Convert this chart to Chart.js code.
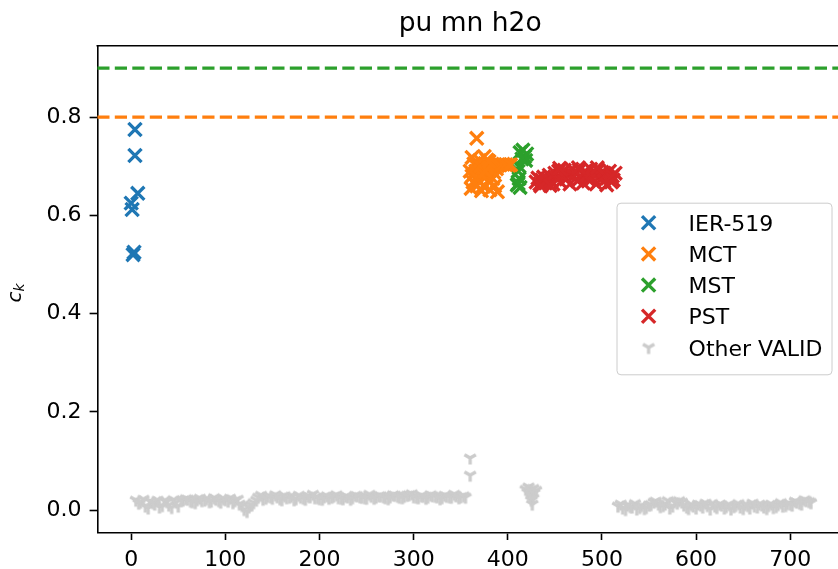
<!DOCTYPE html>
<html>
<head>
<meta charset="utf-8">
<script src="https://cdn.jsdelivr.net/npm/chart.js@4/dist/chart.umd.min.js"></script>
<style>
html, body { margin: 0; padding: 0; overflow: hidden; background: #fff; }
</style>
</head>
<body>
<canvas id="chart" width="850" height="569"></canvas>
<script>
// tick labels
const xTicks = [0, 100, 200, 300, 400, 500, 600, 700];
const yTicks = [0.0, 0.2, 0.4, 0.6, 0.8];

// IER-519
const ierX = [0, 1, 2, 3, 4, 4, 7];
const ierY = [0.625, 0.612, 0.52, 0.525, 0.775, 0.722, 0.645];

// MCT
const mctX = [367, 362, 364, 366, 362, 365, 361, 368, 370, 371, 369, 373, 374, 376, 377, 379, 380, 381, 382, 384,
  385, 386, 388, 389, 390, 372, 375, 378, 363, 367, 371, 383, 386, 389, 392, 395, 398, 360, 376, 380,
  401, 403];
const mctY = [0.757, 0.718, 0.705, 0.690, 0.680, 0.665, 0.655, 0.700, 0.712, 0.684, 0.672, 0.695, 0.660, 0.705, 0.680, 0.692, 0.668, 0.652, 0.700, 0.675,
  0.688, 0.660, 0.695, 0.648, 0.703, 0.650, 0.720, 0.713, 0.668, 0.660, 0.700, 0.703, 0.703, 0.702, 0.703, 0.704, 0.703, 0.690, 0.690, 0.710,
  0.702, 0.703];

// MST
const mstX = [413, 416, 418, 420, 415, 419, 412, 411, 412, 410, 413, 411];
const mstY = [0.728, 0.733, 0.720, 0.725, 0.715, 0.712, 0.700, 0.690, 0.675, 0.662, 0.657, 0.665];

// PST
const pstX = [430, 432, 434, 436, 438, 440, 442, 444, 446, 448, 450, 452, 454, 456, 458, 460, 462, 464, 466, 468, 470,
  472, 474, 476, 478, 480, 482, 484, 486, 488, 490, 492, 494, 496, 498, 500, 502, 504, 506, 508, 510, 511,
  512, 514, 435, 445, 455, 475, 495, 505];
const pstY = [0.668, 0.676, 0.664, 0.672, 0.678, 0.666, 0.674, 0.682, 0.670, 0.664, 0.686, 0.676, 0.690, 0.668, 0.682, 0.692, 0.674, 0.686, 0.664, 0.694, 0.680,
  0.688, 0.670, 0.692, 0.678, 0.666, 0.690, 0.682, 0.672, 0.694, 0.676, 0.686, 0.664, 0.692, 0.680, 0.688, 0.670, 0.684, 0.676, 0.690, 0.668, 0.680,
  0.672, 0.686, 0.660, 0.661, 0.696, 0.697, 0.697, 0.662];

// Other VALID
const otherX = [5, 10, 15, 20, 25, 30, 35, 40, 45, 50, 55, 60, 65, 70, 75, 80, 85, 90, 95, 100,
  105, 110, 115, 120, 125, 130, 135, 140, 145, 150, 155, 160, 165, 170, 175, 180, 185, 190, 195, 200,
  205, 210, 215, 220, 225, 230, 235, 240, 245, 250, 255, 260, 265, 270, 275, 280, 285, 290, 295, 300,
  305, 310, 315, 320, 325, 330, 335, 340, 345, 350, 355,
  8, 13, 18, 23, 28, 33, 38, 43, 48, 53, 58, 63, 68, 73, 78, 83, 88, 93, 98, 103,
  108, 113, 118, 123, 128, 133, 138, 143, 148, 153, 158, 163, 168, 173, 178, 183, 188, 193, 198, 203,
  208, 213, 218, 223, 228, 233, 238, 243, 248, 253, 258, 263, 268, 273, 278, 283, 288, 293, 298, 303,
  308, 313, 318, 323, 328, 333, 338, 343, 348, 353,
  360, 360,
  419, 421, 422, 424, 425, 427, 428, 430, 425, 426, 427,
  517, 522, 527, 532, 537, 542, 547, 552, 557, 562, 567, 572, 577, 582, 587, 592, 597, 602, 607, 612,
  617, 622, 627, 632, 637, 642, 647, 652, 657, 662, 667, 672, 677, 682, 687, 692, 697, 702, 707, 712, 717, 722,
  520, 525, 530, 535, 540, 545, 550, 555, 560, 565, 570, 575, 580, 585, 590, 595, 600, 605, 610, 615,
  620, 625, 630, 635, 640, 645, 650, 655, 660, 665, 670, 675, 680, 685, 690, 695, 700, 705, 710, 715, 720];
const otherY = [0.020, 0.016, 0.008, 0.018, 0.012, 0.006, 0.019, 0.010, 0.021, 0.008, 0.020, 0.022, 0.017, 0.021, 0.019, 0.023, 0.018, 0.022, 0.016, 0.021,
  0.024, 0.019, 0.012, 0.001, 0.006, 0.015, 0.026, 0.022, 0.028, 0.024, 0.027, 0.021, 0.025, 0.028, 0.023, 0.026, 0.022, 0.027, 0.025, 0.023,
  0.027, 0.024, 0.028, 0.025, 0.023, 0.027, 0.025, 0.029, 0.026, 0.024, 0.028, 0.026, 0.029, 0.025, 0.027, 0.030, 0.026, 0.028, 0.031, 0.027,
  0.025, 0.028, 0.026, 0.029, 0.027, 0.025, 0.028, 0.026, 0.029, 0.027, 0.026,
  0.014, 0.022, 0.004, 0.015, 0.020, 0.009, 0.017, 0.005, 0.016, 0.019, 0.023, 0.018, 0.015, 0.024, 0.020, 0.017, 0.025, 0.019, 0.023, 0.018,
  0.015, 0.022, 0.009, -0.003, 0.010, 0.020, 0.030, 0.024, 0.027, 0.031, 0.023, 0.029, 0.026, 0.021, 0.030, 0.024, 0.028, 0.032, 0.025, 0.022,
  0.029, 0.026, 0.031, 0.024, 0.028, 0.022, 0.030, 0.027, 0.025, 0.032, 0.024, 0.029, 0.027, 0.023, 0.031, 0.028, 0.025, 0.030, 0.033, 0.026,
  0.029, 0.024, 0.031, 0.028, 0.023, 0.030, 0.027, 0.032, 0.025, 0.029,
  0.106, 0.071,
  0.042, 0.036, 0.047, 0.040, 0.030, 0.044, 0.035, 0.040, 0.020, 0.012, 0.024,
  0.008, 0.004, 0.010, 0.006, 0.002, 0.009, 0.005, 0.011, 0.018, 0.007, 0.012, 0.004, 0.017, 0.019, 0.010, 0.003, 0.008, 0.012, 0.006, 0.009,
  0.013, 0.005, 0.010, 0.007, 0.002, 0.009, 0.006, 0.011, 0.004, 0.008, 0.012, 0.006, 0.009, 0.005, 0.011, 0.008, 0.013, 0.010, 0.016, 0.012, 0.019, 0.015,
  0.012, 0.001, 0.007, 0.013, 0.005, 0.003, 0.010, 0.016, 0.012, 0.009, 0.019, 0.008, 0.014, 0.016, 0.006, 0.011, 0.004, 0.010, 0.014, 0.002,
  0.008, 0.012, 0.004, 0.011, 0.007, 0.013, 0.003, 0.009, 0.014, 0.006, 0.010, 0.003, 0.012, 0.007, 0.015, 0.009, 0.012, 0.018, 0.014, 0.021, 0.017];

// limit lines
const mstLimit = 0.9;
const mctLimit = 0.8;

const xMin = -36, xMax = 756;
const yMin = -0.0454, yMax = 0.9456;

const FONT = 'DejaVu Sans';
const pts = (xs, ys) => xs.map((x, i) => ({ x: x, y: ys[i] }));

// tri_down marker like matplotlib '1'
function triDown(color) {
    const c = document.createElement('canvas');
    c.width = 22; c.height = 22;
    const g = c.getContext('2d');
    const r = 6.6;
    g.strokeStyle = color;
    g.lineWidth = 3.3;
    g.beginPath();
    g.moveTo(11, 11); g.lineTo(11, 11 + r);
    g.moveTo(11, 11); g.lineTo(11 - 0.866 * r, 11 - 0.5 * r);
    g.moveTo(11, 11); g.lineTo(11 + 0.866 * r, 11 - 0.5 * r);
    g.stroke();
    return c;
}
const grayMark = triDown('#cccccc');

const xSet = (label, color, data) => ({
    label: label, data: data,
    pointStyle: 'crossRot', pointRadius: 9.3, pointBorderWidth: 3.3,
    borderColor: color, backgroundColor: color, showLine: false
});

const legendItems = [
    { label: 'IER-519', color: '#1f77b4' },
    { label: 'MCT', color: '#ff7f0e' },
    { label: 'MST', color: '#2ca02c' },
    { label: 'PST', color: '#d62728' },
    { label: 'Other VALID', color: '#cccccc', tri: true }
];

// top spine, y label and legend box
const extras = {
    id: 'extras',
    afterDraw(chart) {
        const ctx = chart.ctx;
        const a = chart.chartArea;
        ctx.save();
        ctx.strokeStyle = '#000';
        ctx.lineWidth = 1.6;
        ctx.beginPath();
        ctx.moveTo(a.left - 0.8, a.top);
        ctx.lineTo(a.right, a.top);
        ctx.stroke();

        // y label c_k
        ctx.save();
        ctx.translate(21, (a.top + a.bottom) / 2 + 4);
        ctx.rotate(-Math.PI / 2);
        ctx.fillStyle = '#000';
        ctx.textBaseline = 'alphabetic';
        ctx.textAlign = 'left';
        ctx.font = 'italic 20px "' + FONT + '"';
        const cw = ctx.measureText('c').width;
        ctx.fillText('c', -cw / 2 - 4, 0);
        ctx.font = 'italic 14px "' + FONT + '"';
        ctx.fillText('k', cw / 2 - 4, 3);
        ctx.restore();

        // legend
        const w = 215, h = 171.6;
        const lx = a.right - 11 - w;
        const ly = (a.top + a.bottom) / 2 - h / 2;
        ctx.beginPath();
        ctx.roundRect(lx, ly, w, h, 4);
        ctx.fillStyle = 'rgba(255,255,255,0.8)';
        ctx.fill();
        ctx.strokeStyle = '#cccccc';
        ctx.lineWidth = 1;
        ctx.stroke();
        ctx.font = '22px "' + FONT + '"';
        ctx.textAlign = 'left';
        ctx.textBaseline = 'alphabetic';
        legendItems.forEach((it, i) => {
            const cy = ly + 19.5 + i * 31.2;
            const mx = lx + 31.6;
            if (it.tri) {
                ctx.drawImage(grayMark, mx - 11, cy - 11);
            } else {
                const d = 6.6;
                ctx.strokeStyle = it.color;
                ctx.lineWidth = 3.3;
                ctx.beginPath();
                ctx.moveTo(mx - d, cy - d); ctx.lineTo(mx + d, cy + d);
                ctx.moveTo(mx + d, cy - d); ctx.lineTo(mx - d, cy + d);
                ctx.stroke();
            }
            ctx.fillStyle = '#000';
            ctx.fillText(it.label, lx + 71.6, cy + 8);
        });
        ctx.restore();
    }
};

const tickFont = { family: FONT, size: 22 };

new Chart(document.querySelector('#chart'), {
    type: 'scatter',
    data: {
        datasets: [
            {
                label: 'limit MST', data: [{ x: xMin, y: mstLimit }, { x: xMax, y: mstLimit }],
                showLine: true, pointRadius: 0, borderColor: '#2ca02c', borderWidth: 3.3, borderDash: [12.2, 5.3]
            },
            {
                label: 'limit MCT', data: [{ x: xMin, y: mctLimit }, { x: xMax, y: mctLimit }],
                showLine: true, pointRadius: 0, borderColor: '#ff7f0e', borderWidth: 3.3, borderDash: [12.2, 5.3]
            },
            xSet('IER-519', '#1f77b4', pts(ierX, ierY)),
            xSet('MCT', '#ff7f0e', pts(mctX, mctY)),
            xSet('MST', '#2ca02c', pts(mstX, mstY)),
            xSet('PST', '#d62728', pts(pstX, pstY)),
            {
                label: 'Other VALID', data: pts(otherX, otherY),
                pointStyle: grayMark, pointRadius: 6.6, showLine: false
            }
        ]
    },
    options: {
        responsive: false,
        animation: false,
        events: [],
        layout: { autoPadding: false, padding: { left: 0, right: 7, top: 0, bottom: 0 } },
        plugins: {
            legend: { display: false },
            tooltip: { enabled: false },
            title: {
                display: true, text: 'pu mn h2o', fullSize: false, color: '#000',
                font: { family: FONT, size: 26.5, weight: 'normal' },
                padding: { top: 8.1, bottom: 5.8 }
            }
        },
        scales: {
            x: {
                type: 'linear', min: xMin, max: xMax,
                afterBuildTicks: s => { s.ticks = xTicks.map(v => ({ value: v })); },
                afterFit: s => { s.height = 36.7; s.paddingLeft = 0; s.paddingRight = 0; },
                ticks: { autoSkip: false, maxRotation: 0, padding: 7, color: '#000', font: tickFont, callback: v => String(v) },
                grid: { drawOnChartArea: false, drawTicks: true, tickLength: 7.7, tickColor: '#000', tickWidth: 1.6 },
                border: { display: true, color: '#000', width: 1.6 }
            },
            y: {
                type: 'linear', min: yMin, max: yMax,
                afterBuildTicks: s => { s.ticks = yTicks.map(v => ({ value: v })); },
                afterFit: s => { s.width = 97.3; s.paddingTop = 0; s.paddingBottom = 0; },
                ticks: { autoSkip: false, padding: 8, color: '#000', font: tickFont, callback: v => v.toFixed(1) },
                grid: { drawOnChartArea: false, drawTicks: true, tickLength: 7.7, tickColor: '#000', tickWidth: 1.6 },
                border: { display: true, color: '#000', width: 1.6 }
            }
        }
    },
    plugins: [extras]
});
</script>
</body>
</html>
